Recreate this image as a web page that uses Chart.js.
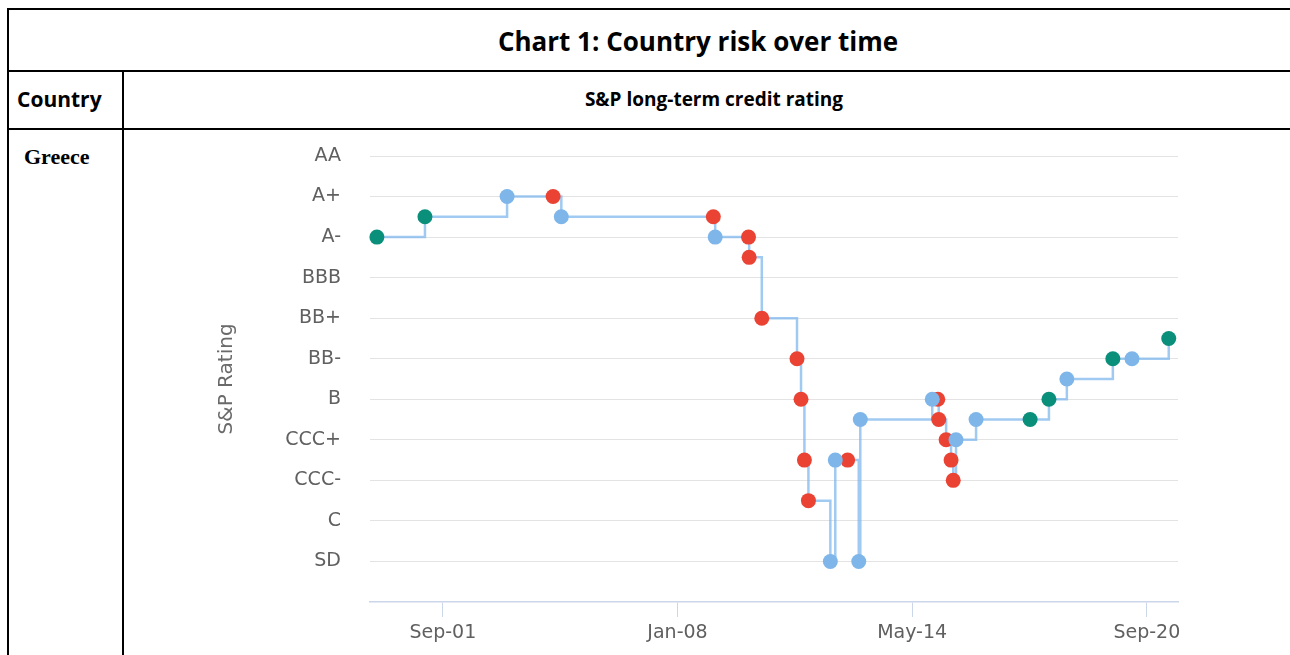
<!DOCTYPE html>
<html>
<head>
<meta charset="utf-8">
<script src="https://cdn.jsdelivr.net/npm/chart.js@4.4.0/dist/chart.umd.min.js"></script>
<style>
body{margin:0;background:#fff;width:1290px;height:655px;overflow:hidden;position:relative;}
.ln{position:absolute;background:#000;}
.txt{position:absolute;font-family:"Open Sans";font-weight:bold;color:#000;white-space:nowrap;}
#wrap{position:absolute;left:124px;top:130px;width:1166px;height:525px;}
</style>
</head>
<body>
<div class="ln" style="left:7px;top:8px;width:1283px;height:2px"></div>
<div class="ln" style="left:7px;top:70px;width:1283px;height:2px"></div>
<div class="ln" style="left:7px;top:128px;width:1283px;height:2px"></div>
<div class="ln" style="left:7px;top:8px;width:2px;height:647px"></div>
<div class="ln" style="left:122px;top:70px;width:2px;height:585px"></div>

<div class="txt" style="left:8px;width:1380px;top:26px;line-height:30px;font-size:26px;text-align:center">Chart 1: Country risk over time</div>
<div class="txt" style="left:17px;top:87px;line-height:24px;font-size:21px">Country</div>
<div class="txt" style="left:123px;width:1182px;top:87px;line-height:24px;font-size:19px;text-align:center">S&amp;P long-term credit rating</div>
<div class="txt" style="left:24px;top:145px;line-height:24px;font-size:22px;font-family:'Liberation Serif'">Greece</div>

<div id="wrap"><canvas id="risk_chart"></canvas></div>

<script>
// rating notches, index = position on the y axis
const ratingScale = ['SD','','C','CC','CCC-','CCC','CCC+','B-','B','B+','BB-','BB','BB+','BBB-','BBB','BBB+','A-','A','A+','AA-','AA'];

// x axis ticks
const tickDates = ['2001-09-01','2008-01-01','2014-05-01','2020-09-01'];
const tickLabels = ['Sep-01','Jan-08','May-14','Sep-20'];

// S&P rating actions for Greece
const eventDates = ['1999-11-20','2001-03-07','2003-05-25','2004-08-22','2004-11-12','2008-12-19','2009-01-07',
  '2009-12-01','2009-12-07','2010-04-10','2011-03-22','2011-05-01','2011-06-04','2011-07-13','2012-02-16',
  '2012-04-04','2012-08-04','2012-11-22','2012-12-07','2014-11-16','2015-01-10','2015-01-19','2015-04-01',
  '2015-05-19','2015-06-10','2015-07-07','2016-01-22','2017-07-07','2018-01-10','2018-07-04','2019-10-01',
  '2020-04-07','2021-04-04'];
const eventRatings = ['A-','A','A+','A+','A','A','A-',
  'A-','BBB+','BB+','BB-','B','CCC','CC','SD',
  'CCC','CCC','SD','B-','B','B','B-','CCC+',
  'CCC','CCC-','CCC+','B-','B-','B','B+','BB-',
  'BB-','BB'];
const eventTypes = ['up','up','watch','down','watch','down','watch',
  'down','down','down','down','down','down','down','watch',
  'watch','down','watch','watch','watch','down','down','down',
  'down','down','watch','watch','up','up','watch','up',
  'watch','up'];

const typeColors = {up:'#0a8f7b', down:'#ea4334', watch:'#7eb6ea'};

function toMonths(s){
    let p = s.split('-').map(Number);
    return p[0]*12 + (p[1]-1) + (p[2]-1)/30;
}

let allPoints = new Array();
for(let i=0; i<eventDates.length; i++){
    allPoints.push({x:toMonths(eventDates[i]), y:ratingScale.indexOf(eventRatings[i])});
}
function pointsOf(type){
    return allPoints.filter((p, i) => eventTypes[i] == type);
}
function markers(type){
    return {
        data:pointsOf(type),
        backgroundColor:typeColors[type],
        pointRadius:7.5,
        pointHoverRadius:7.5,
        pointBorderWidth:0,
        clip:false
    };
}

let tickValues = tickDates.map(toMonths);
let labelFont = {family:'DejaVu Sans', size:19};

new Chart(document.getElementById('risk_chart'), {
    type:'scatter',
    data:{
        datasets:[
            markers('watch'),
            markers('down'),
            markers('up'),
            {
                data:allPoints,
                showLine:true,
                stepped:'before',
                borderColor:'rgba(124,181,236,0.72)',
                borderWidth:2.5,
                pointRadius:0,
                pointHoverRadius:0,
                fill:false
            }
        ]
    },
    options:{
        responsive:true,
        maintainAspectRatio:false,
        animation:false,
        layout:{padding:{left:87, right:112, top:26, bottom:0}},
        plugins:{legend:{display:false}, tooltip:{enabled:false}},
        scales:{
            x:{
                type:'linear',
                min:toMonths('1999-09-13'),
                max:toMonths('2021-07-04'),
                afterBuildTicks:function(axis){
                    axis.ticks = tickValues.map(v => ({value:v}));
                },
                afterFit:function(s){ s.height = 53; },
                grid:{drawOnChartArea:false, drawTicks:true, tickLength:15, color:'#ccd6eb'},
                border:{color:'#ccd6eb', width:1.5},
                ticks:{
                    autoSkip:false, maxRotation:0, padding:5,
                    color:'#606060', font:labelFont,
                    callback:function(v, i){ return tickLabels[i]; }
                }
            },
            y:{
                min:-2,
                max:20,
                afterFit:function(s){ s.width = 159; },
                grid:{
                    drawTicks:true, tickLength:25, tickColor:'rgba(0,0,0,0)',
                    color:function(c){ return c.tick && c.tick.value == -2 ? 'rgba(0,0,0,0)' : '#e3e3e3'; }
                },
                border:{display:false},
                ticks:{
                    stepSize:2, padding:4,
                    color:'#606060', font:labelFont,
                    callback:function(v){ return ratingScale[v] || ''; }
                },
                title:{
                    display:true, text:'S&P Rating',
                    color:'#6a6a6a', font:{family:'DejaVu Sans', size:20}
                }
            }
        }
    }
});
</script>
</body>
</html>
